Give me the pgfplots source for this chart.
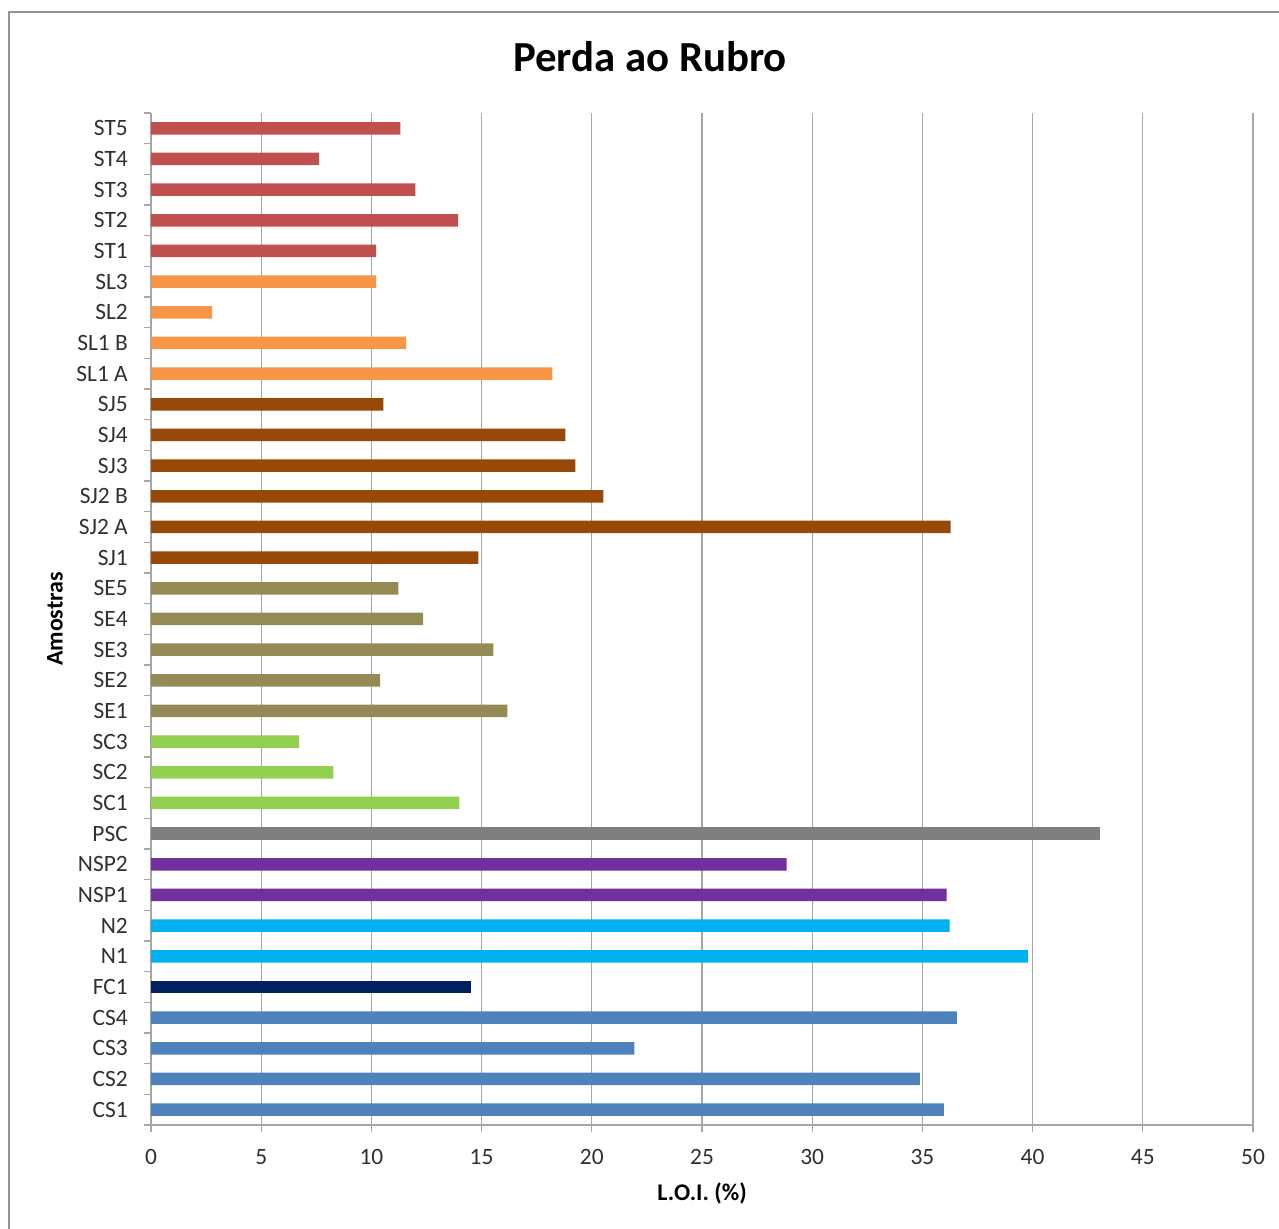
\documentclass[border=0pt]{standalone}
\usepackage{pgfplots}
\pgfplotsset{compat=1.18}
\usepackage{fontspec}
\setmainfont{Carlito}
\definecolor{cCS}{HTML}{4F81BD}
\definecolor{cFC}{HTML}{002060}
\definecolor{cN}{HTML}{00B0F0}
\definecolor{cNSP}{HTML}{7030A0}
\definecolor{cPSC}{HTML}{7F7F7F}
\definecolor{cSC}{HTML}{92D050}
\definecolor{cSE}{HTML}{948A54}
\definecolor{cSJ}{HTML}{984807}
\definecolor{cSL}{HTML}{F79646}
\definecolor{cST}{HTML}{C0504D}
\definecolor{txt}{HTML}{303030}
\definecolor{gridc}{HTML}{A6A6A6}
\begin{document}
\begin{tikzpicture}[x=1bp,y=1bp]
\path[use as bounding box] (0,0) rectangle (1279,1229);
\draw[color=gray!85, line width=2bp] (9,0) -- (9,1217) -- (1279,1217);
\begin{axis}[
  at={(151bp,104bp)}, anchor=south west,
  scale only axis, width=1102bp, height=1012bp,
  xbar, bar width=12.5bp,
  xmin=0, xmax=50, ymin=-0.5, ymax=32.5,
  xtick={0,5,...,50},
  axis lines*=left,
  axis line style={draw=gridc, line width=1.3bp, -},
  xmajorgrids, grid style={draw=gridc, line width=1.3bp},
  tick align=outside,
  major tick length=7bp,
  x tick style={draw=gridc, line width=1.3bp},
  ytick={-0.5,0.5,...,32.5},
  yticklabels={},
  y tick style={draw=gridc, line width=1.3bp},
  extra y ticks={0,...,32},
  extra y tick labels={CS1,CS2,CS3,CS4,FC1,N1,N2,NSP1,NSP2,PSC,SC1,SC2,SC3,SE1,SE2,SE3,SE4,SE5,SJ1,SJ2 A,SJ2 B,SJ3,SJ4,SJ5,SL1 A,SL1 B,SL2,SL3,ST1,ST2,ST3,ST4,ST5},
  extra y tick style={major tick length=0pt, y tick style={draw=none}},
  /pgf/number format/assume math mode=true,
  tick label style={font=\fontsize{23.5}{26}\selectfont, text=txt},
  xticklabel style={anchor=center, yshift=-25bp},
  yticklabel style={anchor=east, inner sep=0pt, xshift=-23bp},
  title={\fontsize{43}{48}\selectfont\bfseries Perda ao Rubro},
  title style={at={(axis description cs:0.5,1)}, anchor=center, yshift=50bp, xshift=-52bp},
  xlabel={\fontsize{24}{28}\selectfont\bfseries L.O.I. (\%)},
  xlabel style={at={(axis description cs:0.5,0)}, anchor=center, yshift=-68bp},
  ylabel={\fontsize{24}{28}\selectfont\bfseries Amostras},
  ylabel style={at={(axis description cs:0,0.5)}, anchor=center, yshift=96bp},
  every axis plot/.append style={draw=none, bar shift=0pt},
]
\addplot[fill=cCS] coordinates {(35.97,0) (34.88,1) (21.93,2) (36.56,3)};
\addplot[fill=cFC] coordinates {(14.53,4)};
\addplot[fill=cN] coordinates {(39.78,5) (36.24,6)};
\addplot[fill=cNSP] coordinates {(36.10,7) (28.84,8)};
\addplot[fill=cPSC] coordinates {(43.05,9)};
\addplot[fill=cSC] coordinates {(13.99,10) (8.27,11) (6.72,12)};
\addplot[fill=cSE] coordinates {(16.17,13) (10.40,14) (15.53,15) (12.35,16) (11.22,17)};
\addplot[fill=cSJ] coordinates {(14.85,18) (36.28,19) (20.53,20) (19.26,21) (18.80,22) (10.54,23)};
\addplot[fill=cSL] coordinates {(18.21,24) (11.58,25) (2.77,26) (10.22,27)};
\addplot[fill=cST] coordinates {(10.22,28) (13.94,29) (11.99,30) (7.63,31) (11.31,32)};
\end{axis}
\end{tikzpicture}
\end{document}
